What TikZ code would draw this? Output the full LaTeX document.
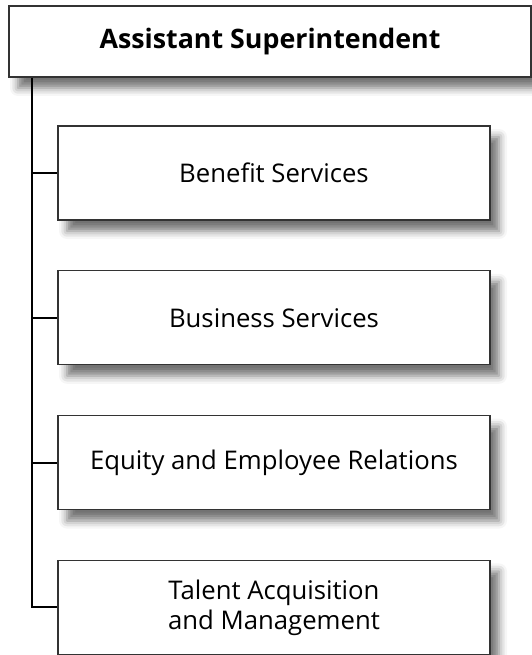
\documentclass[tikz,border=0pt]{standalone}
\usepackage{fontspec}
\setmainfont{Open Sans}
\usetikzlibrary{positioning,shadows.blur}

\begin{document}
\begin{tikzpicture}[x=1pt,y=1pt,node distance=49.7pt,
  unit/.style={draw=black!80,line width=1.1pt,fill=white,minimum width=432pt,minimum height=94pt,
    align=center,font=\fontsize{25.7}{30}\selectfont,
    blur shadow={shadow xshift=9pt,shadow yshift=-11pt,shadow blur radius=8pt,shadow opacity=55}},
  link/.style={line width=2pt}]
  \useasboundingbox (0,0) rectangle (532,-655);
	  \node[unit,minimum width=522pt,minimum height=71pt,font=\fontsize{26.8}{30}\selectfont\bfseries] (head) at (270,-41.5) {Assistant Superintendent};
	  \node[unit] (benefit) at (274,-173) {Benefit Services};
	  \node[unit] (business) [below=of benefit] {Business Services};
	  \node[unit] (equity) [below=of business] {Equity and Employee Relations};
	  \node[unit] (talent) [below=of equity] {Talent Acquisition\\and Management};
	  \coordinate[right=24pt of head.south west] (trunk);

	  \draw[link] (trunk) -- (talent.west -| trunk) -- (talent.west);
	  \foreach \n in {benefit,business,equity}
		\draw[link] (\n.west -| trunk) -- (\n.west);
\end{tikzpicture}
\end{document}
